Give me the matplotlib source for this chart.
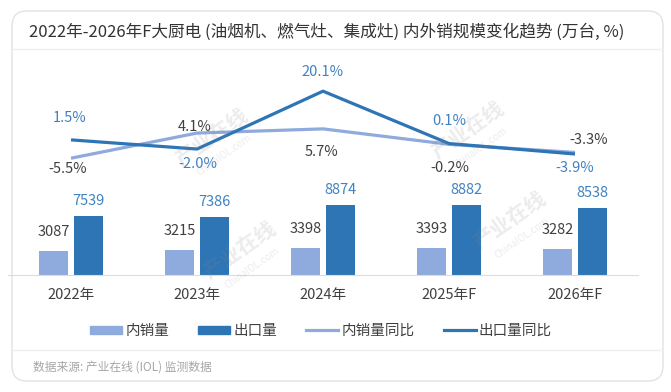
import matplotlib
matplotlib.use('Agg')
import matplotlib.pyplot as plt
from matplotlib.patches import FancyBboxPatch, Patch
from matplotlib.lines import Line2D
import numpy as np

plt.rcParams['font.family'] = ['Noto Sans CJK SC', 'DejaVu Sans']

# data (万台, %)
years = ['2022年', '2023年', '2024年', '2025年F', '2026年F']
domestic = [3087, 3215, 3398, 3393, 3282]
export = [7539, 7386, 8874, 8882, 8538]
domestic_yoy = [-5.5, 4.1, 5.7, -0.2, -3.3]
export_yoy = [1.5, -2.0, 20.1, 0.1, -3.9]

# label offsets in pixels (dx, dy)
export_yoy_off = [(-1, 22), (1, -15), (-1, 19), (0, 23), (0, -14)]
domestic_yoy_off = [(-3, -11), (-2, 6), (-1, -23), (1, -24), (14, 12)]

c_dom = '#8faadc'
c_exp = '#2e75b6'
c_exp_txt = '#3f82c4'
c_txt = '#404040'

W, H = 671, 392
fig = plt.figure(figsize=(W / 100, H / 100), dpi=100)
fig.patch.set_facecolor('white')

# card
card = FancyBboxPatch((0.12, 0.11), 6.51, 3.70, boxstyle='round,pad=0,rounding_size=0.15',
                      transform=fig.dpi_scale_trans, facecolor='white', edgecolor='#e2e2e2',
                      lw=1, zorder=-5)
fig.add_artist(card)
for yy in [49, 350]:
    fig.add_artist(Line2D([12 / W, 663 / W], [1 - yy / H, 1 - yy / H], color='#efefef', lw=1))

fig.text(29 / W, 1 - 32 / H, '2022年-2026年F大厨电 (油烟机、燃气灶、集成灶) 内外销规模变化趋势 (万台, %)',
         ha='left', va='center', fontsize=12, color='#333333')
fig.text(33 / W, 1 - 367 / H, '数据来源: 产业在线 (IOL) 监测数据', ha='left', va='center',
         fontsize=8.5, color='#a6a6a6')

ax = fig.add_axes([8 / W, 117 / H, 630 / W, 215 / H])
ax.set_facecolor('none')
x = np.arange(len(years))
ax.bar(x - 0.14, domestic, 0.23, color=c_dom, zorder=2)
ax.bar(x + 0.14, export, 0.23, color=c_exp, zorder=2)
ax.set_xlim(-0.5, 4.5)
ax.set_ylim(0, 27400)
for i in range(len(years)):
    ax.annotate(str(domestic[i]), (x[i] - 0.14, domestic[i]), xytext=(0, 19), textcoords='offset pixels',
                ha='center', va='center', fontsize=10.5, color=c_txt)
    ax.annotate(str(export[i]), (x[i] + 0.14, export[i]), xytext=(0, 15), textcoords='offset pixels',
                ha='center', va='center', fontsize=10.5, color=c_exp_txt)
ax.set_xticks(x)
ax.set_xticklabels(years, fontsize=10.5, color=c_txt)
ax.tick_params(axis='x', length=0, pad=9)
ax.set_yticks([])
for s in ['top', 'left', 'right']:
    ax.spines[s].set_visible(False)
ax.spines['bottom'].set_color('#dcdcdc')

ax2 = ax.twinx()
ax2.plot(x, domestic_yoy, color=c_dom, lw=2.3, solid_capstyle='butt', zorder=3)
ax2.plot(x, export_yoy, color=c_exp, lw=2.3, solid_capstyle='butt', zorder=4)
ax2.set_ylim(-50.1, 32.0)
ax2.set_yticks([])
for s in ax2.spines.values():
    s.set_visible(False)
for i in range(len(years)):
    ax2.annotate(f'{export_yoy[i]:.1f}%', (x[i], export_yoy[i]), xytext=export_yoy_off[i],
                 textcoords='offset pixels', ha='center', va='center', fontsize=10.5, color=c_exp_txt)
    ax2.annotate(f'{domestic_yoy[i]:.1f}%', (x[i], domestic_yoy[i]), xytext=domestic_yoy_off[i],
                 textcoords='offset pixels', ha='center', va='center', fontsize=10.5, color=c_txt)

# watermark
for (tx, ty) in [(212, 137), (240, 250), (468, 130), (510, 220)]:
    fig.text(tx / W, 1 - ty / H, '产业在线', rotation=35, ha='center', va='center', fontsize=15,
             fontweight='bold', color='#888888', alpha=0.16, zorder=10)
    fig.text((tx + 12) / W, 1 - (ty + 18) / H, 'ChinaIOL.com', rotation=35, ha='center', va='center',
             fontsize=7, color='#888888', alpha=0.16, zorder=10)

handles = [Patch(color=c_dom), Patch(color=c_exp),
           Line2D([], [], color=c_dom, lw=2.3), Line2D([], [], color=c_exp, lw=2.3)]
labels = ['内销量', '出口量', '内销量同比', '出口量同比']
fig.legend(handles, labels, loc='center', bbox_to_anchor=(321 / W, 1 - 331 / H), ncol=4,
           frameon=False, fontsize=10.5, handlelength=2.2, handleheight=0.5, handletextpad=0.2,
           columnspacing=2.0, labelcolor=c_txt)

fig.savefig('out.png', dpi=100)
